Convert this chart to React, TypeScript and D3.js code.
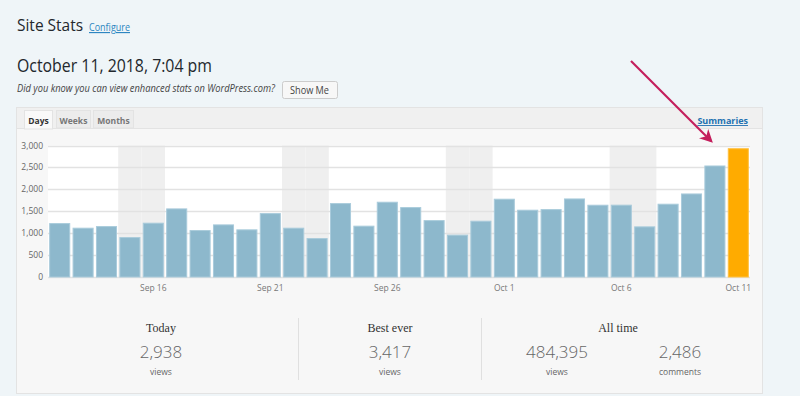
import React from "react";
import * as d3 from "d3";

const days = [
  "Sep 12","Sep 13","Sep 14","Sep 15","Sep 16","Sep 17","Sep 18","Sep 19","Sep 20","Sep 21",
  "Sep 22","Sep 23","Sep 24","Sep 25","Sep 26","Sep 27","Sep 28","Sep 29","Sep 30","Oct 1",
  "Oct 2","Oct 3","Oct 4","Oct 5","Oct 6","Oct 7","Oct 8","Oct 9","Oct 10","Oct 11",
];
const views = [
  1230, 1125, 1162, 911, 1239, 1565, 1071, 1200, 1087, 1458,
  1125, 888, 1686, 1171, 1717, 1595, 1298, 966, 1284, 1786,
  1535, 1549, 1792, 1649, 1650, 1155, 1672, 1906, 2544, 2938,
];
const weekendDays = ["Sep 15","Sep 16","Sep 22","Sep 23","Sep 29","Sep 30","Oct 6","Oct 7"];
const xTickLabels = ["Sep 16","Sep 21","Sep 26","Oct 1","Oct 6","Oct 11"];
const yTicks = [0, 500, 1000, 1500, 2000, 2500, 3000];
const tabs = ["Days", "Weeks", "Months"];

const SANS = "'Open Sans', 'Noto Sans', sans-serif";
const SERIF = "'Liberation Serif', 'DejaVu Serif', serif";

export default function App() {
  const left = 48, right = 750, top = 145.5, bottom = 277;
  const x = d3.scaleBand<string>().domain(days).range([left, right]).paddingInner(0.1).paddingOuter(0.05);
  const xFull = d3.scaleBand<string>().domain(days).range([left, right]);
  const y = d3.scaleLinear().domain([0, 3000]).range([bottom, top]);
  const fmt = d3.format(",");

  return (
    <svg width={800} height={396} style={{ position: "absolute", left: 0, top: 0 }} fontFamily={SANS}>
      <defs>
        <marker id="ah" viewBox="0 0 10 10" refX="8" refY="5" markerWidth="6" markerHeight="6" orient="auto">
          <path d="M0,0 L10,5 L0,10 L3,5 z" fill="#c41e5c" />
        </marker>
      </defs>
      <rect x={0} y={0} width={800} height={396} fill="#eff5f8" />
      <text x={17} y={31} fontSize={17} fill="#23282d" textLength={66} lengthAdjust="spacingAndGlyphs">Site Stats</text>
      <text x={89} y={31} fontSize={11.5} fill="#2e86c1" textDecoration="underline" textLength={41} lengthAdjust="spacingAndGlyphs">Configure</text>
      <text x={17} y={72} fontSize={19} fill="#23282d" textLength={195} lengthAdjust="spacingAndGlyphs">October 11, 2018, 7:04 pm</text>
      <text x={17} y={92} fontSize={10} fontStyle="italic" fill="#444" textLength={258} lengthAdjust="spacingAndGlyphs">Did you know you can view enhanced stats on WordPress.com?</text>
      <rect x={282.5} y={81.5} width={55} height={17} rx={2} fill="#f7f7f7" stroke="#ccc" />
      <text x={290} y={93.5} fontSize={10} fill="#444" textLength={39} lengthAdjust="spacingAndGlyphs">Show Me</text>

      {/* panel */}
      <rect x={16.5} y={107.5} width={746} height={286} fill="#f7f7f7" stroke="#e3e3e3" />
      <rect x={17} y={108} width={745} height={20} fill="#f0f0f0" />
      <line x1={17} x2={762} y1={128.5} y2={128.5} stroke="#e3e3e3" />
      {tabs.map((t, i) => {
        const xs = [24, 56, 93][i];
        const ws = [28, 34, 40][i];
        return (
          <g key={t}>
            <rect x={xs + 0.5} y={110.5} width={ws} height={i === 0 ? 18.5 : 17.5} fill={i === 0 ? "#f9f9f9" : "#ececec"} stroke="#e3e3e3" />
            <text x={xs + ws / 2 + 0.5} y={124} fontSize={8.5} fontWeight="bold" textAnchor="middle" fill={i === 0 ? "#333" : "#777"}>{t}</text>
          </g>
        );
      })}
      <text x={748} y={124} fontSize={9} fontWeight="bold" textAnchor="end" fill="#2271b1" textDecoration="underline">Summaries</text>

      {/* chart */}
      <rect x={left} y={top} width={right - left} height={bottom - top} fill="#ffffff" />
      {weekendDays.map((d) => (
        <rect key={d} x={xFull(d)!} y={top} width={xFull.bandwidth()} height={bottom - top} fill="#efefef" />
      ))}
      {yTicks.map((t) => (
        <g key={t}>
          <line x1={left} x2={right} y1={Math.round(y(t)) + 0.5} y2={Math.round(y(t)) + 0.5} stroke="#e2e2e2" strokeWidth={1.5} />
          <text x={43} y={y(t) + 3} fontSize={8.5} textAnchor="end" fill="#666">{fmt(t)}</text>
        </g>
      ))}
      {days.map((d, i) => (
        <rect
          key={d}
          x={x(d)! + 0.5}
          y={y(views[i]) + 0.5}
          width={x.bandwidth() - 1}
          height={bottom - y(views[i]) - 0.5}
          fill={i === days.length - 1 ? "#ffab00" : "#8db8cc"}
          stroke={i === days.length - 1 ? "#ffc040" : "#a9cbdb"}
          strokeWidth={1}
        />
      ))}
      {xTickLabels.map((d) => (
        <text key={d} x={xFull(d)! + xFull.bandwidth() / 2} y={291} fontSize={8.5} textAnchor="middle" fill="#777">{d}</text>
      ))}

      {/* stats */}
      <line x1={298.5} x2={298.5} y1={318} y2={380} stroke="#e0e0e0" />
      <line x1={481.5} x2={481.5} y1={318} y2={380} stroke="#e0e0e0" />
      <text x={161} y={332} fontSize={12} fontFamily={SERIF} textAnchor="middle" fill="#333">Today</text>
      <text x={161} y={358} fontSize={17} textAnchor="middle" fill="#666" fontWeight={300}>{fmt(2938)}</text>
      <text x={161} y={375} fontSize={8.5} textAnchor="middle" fill="#666">views</text>
      <text x={390} y={332} fontSize={12} fontFamily={SERIF} textAnchor="middle" fill="#333">Best ever</text>
      <text x={390} y={358} fontSize={17} textAnchor="middle" fill="#666" fontWeight={300}>{fmt(3417)}</text>
      <text x={390} y={375} fontSize={8.5} textAnchor="middle" fill="#666">views</text>
      <text x={618} y={332} fontSize={12} fontFamily={SERIF} textAnchor="middle" fill="#333">All time</text>
      <text x={557} y={358} fontSize={17} textAnchor="middle" fill="#666" fontWeight={300}>{fmt(484395)}</text>
      <text x={557} y={375} fontSize={8.5} textAnchor="middle" fill="#666">views</text>
      <text x={680} y={358} fontSize={17} textAnchor="middle" fill="#666" fontWeight={300}>{fmt(2486)}</text>
      <text x={680} y={375} fontSize={8.5} textAnchor="middle" fill="#666">comments</text>

      {/* arrow */}
      <line x1={631} y1={61} x2={711} y2={141} stroke="#c41e5c" strokeWidth={2.2} markerEnd="url(#ah)" />
    </svg>
  );
}
